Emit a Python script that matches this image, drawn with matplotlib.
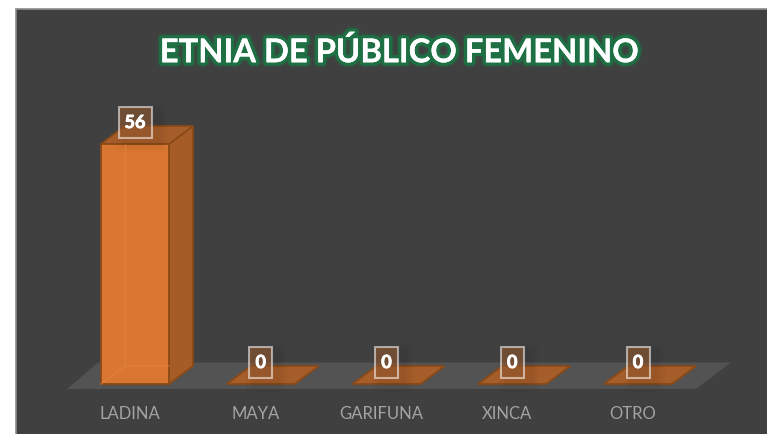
import matplotlib
matplotlib.use('Agg')
import matplotlib.pyplot as plt
import matplotlib.patheffects as pe
from matplotlib.patches import Polygon, Rectangle

# %% DATA
categories = ['LADINA', 'MAYA', 'GARIFUNA', 'XINCA', 'OTRO']
values = [56, 0, 0, 0, 0]
title = 'ETNIA DE PÚBLICO FEMENINO'

# %% STYLE
W, H = 767, 434
bg = '#404040'
floor_col = '#545353'
front_col = '#d97732'
side_col = '#a65c26'
top_col = '#a55d29'
edge_col = '#8a4a17'
plt.rcParams['font.family'] = ['Lato', 'DejaVu Sans']

# scale: one category = 125.75 px, one unit of value = 240/56 px
px_x = 125.75
px_y = 240 / 56
bar_w = 68 / px_x
dep_x = 24 / px_x
dep_y = 18 / px_y

fig = plt.figure(figsize=(W / 100, H / 100), dpi=100, facecolor='white')
# chart background runs off the right and bottom of the picture
fig.patches.append(Rectangle((16 / W, -0.05), 1, 1.05 - 9 / H, transform=fig.transFigure,
                             facecolor=bg, edgecolor='#8c8c8c', lw=1.2, zorder=-1))

# axes placed so that category 0 is centred at x=135 px and value 0 at y=384 px
x0 = 135 - px_x * 0.5
ax = fig.add_axes([x0 / W, 1 - 384 / H, px_x * 5 / W, 240 / H])
ax.set_xlim(-0.5, 4.5)
ax.set_ylim(0, 56)
ax.axis('off')

# floor
fl = 5 / px_y
fl_left = -0.54
fl_right = 4.46
ax.add_patch(Polygon([(fl_left, -fl), (fl_right, -fl), (fl_right + 35 / px_x, 21.5 / px_y),
                      (fl_left + 31 / px_x, 21.5 / px_y)],
                     closed=True, facecolor=floor_col, edgecolor='none', clip_on=False, zorder=1))

for i, (cat, val) in enumerate(zip(categories, values)):
    l, r = i - bar_w / 2, i + bar_w / 2
    if val > 0:
        # side, top and front faces
        ax.add_patch(Polygon([(r, 0), (r + dep_x, dep_y), (r + dep_x, val + dep_y), (r, val)],
                             facecolor=side_col, edgecolor=edge_col, lw=1.3, zorder=3, clip_on=False))
        ax.add_patch(Polygon([(l, val), (r, val), (r + dep_x, val + dep_y), (l + dep_x, val + dep_y)],
                             facecolor=top_col, edgecolor=edge_col, lw=1.3, zorder=3, clip_on=False))
        ax.add_patch(Rectangle((l, 0), bar_w, val, facecolor=front_col, edgecolor=edge_col,
                               lw=1.3, zorder=4, clip_on=False))
        # back edges faintly show through the front face
        ax.plot([l + dep_x, l + dep_x], [dep_y, val], color='#e8873f', lw=1, alpha=0.5, zorder=5, clip_on=False)
        ax.plot([l, l + dep_x, r], [0, dep_y, dep_y], color='#e8873f', lw=1, alpha=0.5, zorder=5, clip_on=False)
    else:
        ax.add_patch(Polygon([(l, 0), (r, 0), (r + dep_x, dep_y), (l + dep_x, dep_y)],
                             facecolor=top_col, edgecolor=edge_col, lw=1.3, zorder=3, clip_on=False))

    # value label box, sits just over the top face
    cx = i
    by = val + 6 / px_y
    bh = 31 / px_y
    bw = (33 if val > 9 else 23) / px_x
    # soft shadow under the box
    for grow, alpha in [(9, 0.015), (6, 0.025), (3, 0.03)]:
        ax.add_patch(Rectangle((cx - bw / 2 - grow / px_x + 6 / px_x, by - grow / px_y - 5 / px_y),
                               bw + 2 * grow / px_x, bh + 2 * grow / px_y, facecolor=(0, 0, 0, alpha),
                               edgecolor='none', zorder=5, clip_on=False))
    ax.add_patch(Rectangle((cx - bw / 2, by), bw, bh, facecolor=(0.58, 0.35, 0.19, 0.6),
                           edgecolor=(1, 1, 1, 0.55), lw=1.5, zorder=6, clip_on=False))
    ax.text(cx, by + bh / 2, str(val), color='white', fontsize=13, fontweight='bold',
            ha='center', va='center', zorder=7,
            path_effects=[pe.withStroke(linewidth=0.6, foreground='white')])

    ax.text(i - 5.5 / px_x, -(414 - 384) / px_y, cat, color='#a3a3a3', fontsize=12, ha='center', va='center',
            clip_on=False)

fig.text(399 / W, 1 - 52 / H, title, color='white', fontsize=23.6, fontweight='bold', ha='center', va='center',
         path_effects=[pe.withStroke(linewidth=8, foreground=(0.1, 0.45, 0.25, 0.2)),
                       pe.withStroke(linewidth=5, foreground=(0.08, 0.5, 0.28, 0.7)),
                       pe.Normal()])

fig.savefig('out.png', dpi=100, facecolor='white')
